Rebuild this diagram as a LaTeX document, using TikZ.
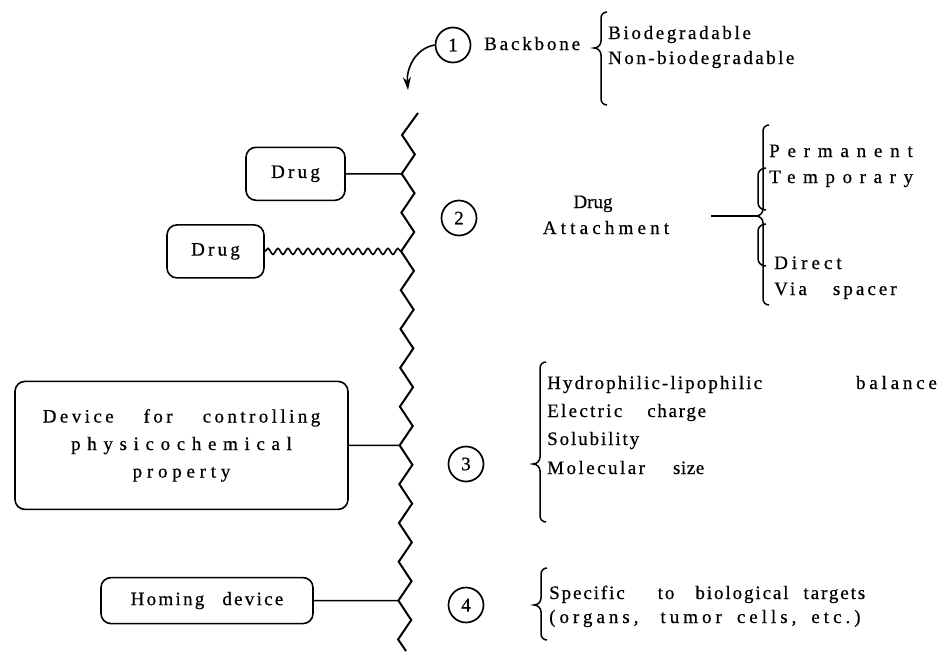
\documentclass[tikz,border=0pt]{standalone}
\usepackage{fontspec}
\setmainfont{Liberation Serif}[FakeBold=0.6]
\usetikzlibrary{arrows.meta, positioning, decorations.pathmorphing}
\newcommand\ls[1]{\addfontfeatures{LetterSpace=#1}}
% curly brace opening right: x, top, tip, bottom (y downwards)
\newcommand\curly[4]{%
  \draw[brc] ({#1+6},{-#2}) to[out=180,in=90] (#1,{-#2-6}) -- (#1,{-#3+7})
    to[out=-90,in=0] ({#1-7},{-#3}) to[out=0,in=90] (#1,{-#3-7})
    -- (#1,{-#4+6}) to[out=-90,in=180] ({#1+6},{-#4});}

\begin{document}
\begin{tikzpicture}[x=1pt, y=1pt,
  sp/.style={font={\fontsize{19}{22}\selectfont\ls{#1}}},
  box/.style={draw, line width=1.6pt, rounded corners=10pt, inner sep=0pt},
  num/.style={draw, circle, line width=1.7pt, minimum size=35pt, inner sep=0pt, sp=0},
  txt/.style={anchor=base west, inner sep=0pt},
  link/.style={line width=1.6pt},
  brc/.style={line width=1.5pt},
  spine/.style={line width=2pt, line join=miter},
]
\fill[white] (0,0) rectangle (948,-651);
\useasboundingbox (0,0) rectangle (948,-651);

% backbone
\coordinate (ztop) at (418,-113);
\foreach \i in {0,...,26}{
  \pgfmathsetmacro\zx{402+13*mod(\i,2)-0.15*\i}
  \coordinate (z\i) at (\zx,{-135-19.4*\i});
}
\coordinate (zend) at (406,-651);
\draw[spine] (ztop) -- (z0) \foreach \i in {1,...,26}{ -- (z\i)} -- (zend);

% 1 backbone
\node[num] (c1) at (453,-45) {1};
\coordinate (atip) at (408,-90);
\draw[link, -{Stealth[length=13pt, width=8pt]}] (c1.west) to[out=190, in=95] (atip);
\node[txt, sp=15] (bb) at (484,-50) {Backbone};
\curly{601}{12}{48}{105}
\node[txt, sp=14] (bio) at (608,-39) {Biodegradable};
\node[txt, sp=13] (nbio) at (608,-64) {Non-biodegradable};

% 2 drug attachment
\node[box, sp=17, minimum width=99pt, minimum height=53pt] (drug1) at (295.5,-173.8) {Drug};
\node[box, sp=17, minimum width=97pt, minimum height=53pt] (drug2) at (215.5,-251.4) {Drug};
\draw[link] (drug1) -- (z2);
\draw[link, decorate, decoration={snake, amplitude=3pt, segment length=10pt}] (drug2) -- (z6);
\node[num] (c2) at (459,-218) {2};
\node[anchor=base, inner sep=0pt, sp=0] (att1) at (593,-208) {Drug};
\node[anchor=base, inner sep=0pt, sp=22] (att2) at (606,-234) {Attachment};
\coordinate (lstart) at (711,-216);
\coordinate (br2) at (756,-216);
\draw[link] (lstart) -- (br2);
\curly{763}{125}{216}{305}
\draw[brc] (766,-168) to[out=180,in=90] (758,-175) -- (758,-203) to[out=-90,in=180] (766,-210);
\draw[brc] (766,-224) to[out=180,in=90] (758,-231) -- (758,-259) to[out=-90,in=180] (766,-266);
\node[txt, sp=41] (perm) at (769,-157) {Permanent};
\node[txt, sp=40] (temp) at (769,-183) {Temporary};
\node[txt, sp=21] (dir) at (774,-269) {Direct};
\node[txt, sp=17] (via) at (774,-295) {Via\hspace{26pt}{\ls{16}spacer}};

% 3 physicochemical property
\node[box, minimum width=333pt, minimum height=128pt, align=center,
  font={\fontsize{19}{27.5}\selectfont}] (dev) at (181.5,-445.4)
  {{\ls{18}Device\hspace{30pt}for\hspace{30pt}controlling}\\
   {\ls{35}physicochemical}\\{\ls{25}property}};
\draw[link] (dev) -- (z16);
\node[num] (c3) at (466,-464) {3};
\curly{540}{362}{464}{522}
\node[txt, sp=11] (h1) at (547,-389) {Hydrophilic-lipophilic\hspace{94pt}{\ls{20}balance}};
\node[txt, sp=12] (h2) at (547,-417) {Electric\hspace{25pt}{\ls{9}charge}};
\node[txt, sp=10] (h3) at (547,-445) {Solubility};
\node[txt, sp=13] (h4) at (547,-474) {Molecular\hspace{28pt}{\ls{3}size}};

% 4 homing
\node[box, sp=12, minimum width=212pt, minimum height=46pt] (home) at (207,-600.6) {Homing\hspace{18pt}device};
\draw[link] (home) -- (z24);
\node[num] (c4) at (466,-605) {4};
\curly{541}{568}{605}{640}
\node[txt, sp=10] (s1) at (549,-599) {Specific\hspace{33pt}to\hspace{21pt}biological\hspace{15pt}targets};
\node[txt, sp=21] (s2) at (549,-623) {(organs,\hspace{22pt}tumor\hspace{15pt}cells,\hspace{15pt}etc.)};
\end{tikzpicture}
\end{document}
